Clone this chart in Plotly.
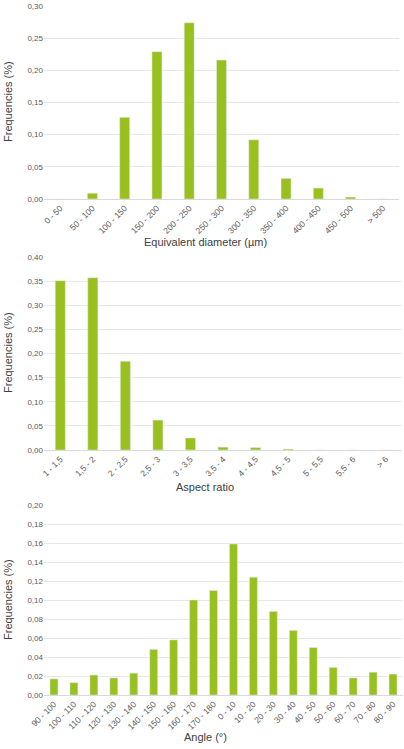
import plotly.graph_objects as go

diam_labels = ["0 - 50", "50 - 100", "100 - 150", "150 - 200", "200 - 250", "250 - 300",
               "300 - 350", "350 - 400", "400 - 450", "450 - 500", "> 500"]
diam_freq = [0, 0.009, 0.127, 0.229, 0.274, 0.216, 0.092, 0.032, 0.017, 0.003, 0]

aspect_labels = ["1 - 1,5", "1,5 - 2", "2 - 2,5", "2,5 - 3", "3 - 3,5", "3,5 - 4",
                 "4 - 4,5", "4,5 - 5", "5 - 5,5", "5,5 - 6", "> 6"]
aspect_freq = [0.351, 0.357, 0.184, 0.062, 0.025, 0.006, 0.005, 0.002, 0, 0, 0]

angle_labels = ["90 - 100", "100 - 110", "110 - 120", "120 - 130", "130 - 140", "140 - 150",
                "150 - 160", "160 - 170", "170 - 180", "0 - 10", "10 - 20", "20 - 30",
                "30 - 40", "40 - 50", "50 - 60", "60 - 70", "70 - 80", "80 - 90"]
angle_freq = [0.017, 0.013, 0.021, 0.018, 0.023, 0.048, 0.058, 0.100, 0.110, 0.159,
              0.124, 0.088, 0.068, 0.050, 0.029, 0.018, 0.024, 0.022]

W, H = 404, 749
L = 44
GREEN = "#98c01f"
YTICK = dict(family="Liberation Sans, Arial", size=8, color="#595959")
XTICK = dict(family="Liberation Sans, Arial", size=8.5, color="#595959")
TITLE = dict(family="Liberation Sans, Arial", size=11, color="#404040")


def ydom(top_px, bot_px):
    return [1 - bot_px / H, 1 - top_px / H]


fig = go.Figure()
fig.add_trace(go.Bar(x=diam_labels, y=diam_freq, width=0.31, marker_color=GREEN,
                     xaxis="x", yaxis="y"))
fig.add_trace(go.Bar(x=aspect_labels, y=aspect_freq, width=0.31, marker_color=GREEN,
                     xaxis="x2", yaxis="y2"))
fig.add_trace(go.Bar(x=angle_labels, y=angle_freq, width=0.4, marker_color=GREEN,
                     xaxis="x3", yaxis="y3"))

xcommon = dict(type="category", tickangle=-45, tickfont=XTICK, showgrid=False,
               showline=True, linecolor="#d9d9d9", ticks="", fixedrange=True,
               automargin=False)
ycommon = dict(tickformat=".2f", tickfont=YTICK, showgrid=True, gridcolor="#e8e8e8",
               zeroline=False, showline=False, ticks="", fixedrange=True,
               automargin=False)

plot_w = W - L
fig.update_layout(
    width=W, height=H,
    margin=dict(l=L, r=0, t=0, b=0),
    paper_bgcolor="white", plot_bgcolor="white",
    separators=",.",
    showlegend=False,
    xaxis=dict(xcommon, domain=[0, 355 / plot_w], anchor="y"),
    yaxis=dict(ycommon, domain=ydom(6, 199), range=[0, 0.30], dtick=0.05, anchor="x"),
    xaxis2=dict(xcommon, domain=[0, 358 / plot_w], anchor="y2"),
    yaxis2=dict(ycommon, domain=ydom(257, 450), range=[0, 0.40], dtick=0.05, anchor="x2"),
    xaxis3=dict(xcommon, domain=[0, 359 / plot_w], anchor="y3"),
    yaxis3=dict(ycommon, domain=ydom(505, 695), range=[0, 0.20], dtick=0.02, anchor="x3"),
)

xt = (205 - L) / plot_w
yx = (8 - L) / plot_w
for text, ypx in [("Equivalent diameter (µm)", 242), ("Aspect ratio", 487), ("Angle (°)", 737)]:
    fig.add_annotation(text=text, xref="paper", yref="paper", x=xt, y=1 - ypx / H,
                       xanchor="center", yanchor="middle", showarrow=False, font=TITLE)
for ypx in [102, 353, 600]:
    fig.add_annotation(text="Frequencies (%)", xref="paper", yref="paper", x=yx, y=1 - ypx / H,
                       xanchor="center", yanchor="middle", textangle=-90, showarrow=False,
                       font=TITLE)

# drop the default body margin so the figure sits at the page corner
fig.write_html("out.html", config={"displayModeBar": False},
               post_script="document.body.style.margin='0';")
